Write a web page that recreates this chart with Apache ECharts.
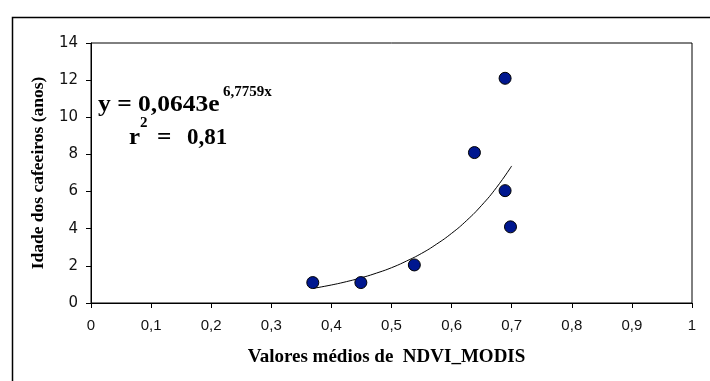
<!DOCTYPE html>
<html><head><meta charset="utf-8">
<script src="https://cdn.jsdelivr.net/npm/echarts@6/dist/echarts.min.js"></script>
<style>html,body{margin:0;padding:0;background:#fff}#c{width:710px;height:381px}</style>
</head><body><div id="c"></div>
<script>
// Observed points (NDVI, age)
const ndvi = [0.369, 0.449, 0.538, 0.638, 0.689, 0.689, 0.698];
const idade = [1.1, 1.1, 2.05, 8.1, 12.1, 6.05, 4.1];
// Exponential trend curve
const trendX = [0.37, 0.40, 0.425, 0.45, 0.475, 0.50, 0.525, 0.55, 0.575, 0.60, 0.625, 0.65, 0.675, 0.70];
const trendY = [0.79, 0.97, 1.15, 1.36, 1.61, 1.90, 2.26, 2.67, 3.17, 3.75, 4.44, 5.26, 6.23, 7.38];
const xTicks = [0, 0.1, 0.2, 0.3, 0.4, 0.5, 0.6, 0.7, 0.8, 0.9, 1];
const yTicks = [0, 2, 4, 6, 8, 10, 12, 14];

const chart = echarts.init(document.getElementById('c'));
const fmt = v => String(Math.round(v * 10) / 10).replace('.', ',');
function txt(t, x, y, fs, sx) {
  return { type: 'text', x: x, y: y, scaleX: sx, z: 10,
    style: { text: t, x: 0, y: 0, fontFamily: 'Liberation Serif', fontWeight: 'bold', fontSize: fs, fill: '#000',
      align: 'left', verticalAlign: 'middle', textAlign: 'left', textVerticalAlign: 'middle' } };
}
chart.setOption({
  animation: false,
  backgroundColor: '#fff',
  grid: { left: 91, top: 43, width: 601, height: 260, show: true, borderColor: '#000', borderWidth: 1, backgroundColor: 'transparent' },
  xAxis: {
    type: 'value', min: xTicks[0], max: xTicks[xTicks.length - 1], interval: 0.1,
    name: 'Valores médios de  NDVI_MODIS', nameLocation: 'middle', nameGap: 45,
    nameTextStyle: { fontFamily: 'Liberation Serif', fontWeight: 'bold', fontSize: 19, color: '#000', padding: [0, 10, 0, 0] },
    axisLine: { lineStyle: { color: '#000', width: 1 } },
    axisTick: { show: true, length: 5, lineStyle: { color: '#000' } },
    axisLabel: { formatter: fmt, fontFamily: 'Liberation Sans', fontSize: 15, color: '#111', margin: 15 },
    splitLine: { show: false }
  },
  yAxis: {
    type: 'value', min: yTicks[0], max: yTicks[yTicks.length - 1], interval: 2,
    name: 'Idade dos cafeeiros (anos)', nameLocation: 'middle', nameGap: 44, nameRotate: 90,
    nameTextStyle: { fontFamily: 'Liberation Serif', fontWeight: 'bold', fontSize: 17.5, color: '#000' },
    axisLine: { show: true, lineStyle: { color: '#000', width: 1 } },
    axisTick: { show: true, length: 5, lineStyle: { color: '#000' } },
    axisLabel: { formatter: fmt, fontFamily: 'DejaVu Sans', fontSize: 15, color: '#111', margin: 13 },
    splitLine: { show: false }
  },
  graphic: [
    { type: 'rect', left: 10, top: 15, shape: { width: 740, height: 400 }, style: { fill: 'none', stroke: '#000', lineWidth: 1.5 }, z: 0 },
    txt('y = 0,0643e', 98, 105, 23, 1.11),
    txt('6,7759x', 223, 92, 15, 1.0),
    txt('r', 129, 138, 23, 1.08),
    txt('2', 140, 123, 15, 1.0),
    txt('=', 157, 138, 23, 1.1),
    txt('0,81', 187, 138, 23, 1.0)
  ],
  series: [
    { type: 'line', data: trendX.map((x, i) => [x, trendY[i]]), smooth: true, showSymbol: false,
      lineStyle: { color: '#000', width: 1 }, z: 2 },
    { type: 'scatter', data: ndvi.map((x, i) => [x, idade[i]]), symbol: 'circle', symbolSize: 12,
      itemStyle: { color: '#00178f', opacity: 1, borderColor: '#000', borderWidth: 1 }, z: 3 }
  ]
});
</script></body></html>
